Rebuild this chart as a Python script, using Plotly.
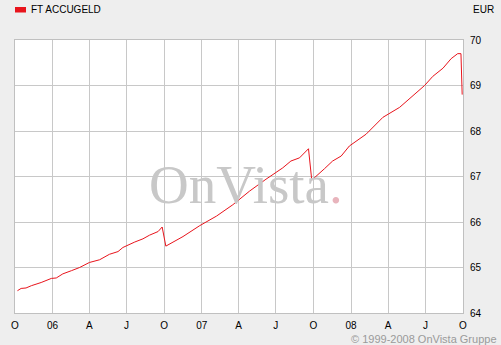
import plotly.graph_objects as go

dates = [
    "2005-10-07", "2005-10-16", "2005-10-28", "2005-11-10", "2005-12-04", "2005-12-29",
    "2006-01-10", "2006-01-26", "2006-02-16", "2006-03-08", "2006-04-01", "2006-04-26",
    "2006-05-20", "2006-06-10", "2006-06-22", "2006-07-03", "2006-07-21", "2006-08-10",
    "2006-08-26", "2006-09-16", "2006-09-26", "2006-10-05", "2006-10-22", "2006-11-16",
    "2006-12-27", "2007-02-06", "2007-03-18", "2007-04-28", "2007-06-07", "2007-07-18",
    "2007-08-07", "2007-08-28", "2007-09-19", "2007-09-27", "2007-10-28", "2007-11-17",
    "2007-12-08", "2007-12-28", "2008-02-07", "2008-03-19", "2008-04-29", "2008-06-09",
    "2008-06-29", "2008-07-19", "2008-08-13", "2008-09-02", "2008-09-18", "2008-09-26",
    "2008-09-27", "2008-09-29",
]
values = [
    64.49, 64.54, 64.55, 64.60, 64.67, 64.76,
    64.77, 64.86, 64.93, 65.00, 65.11, 65.17,
    65.29, 65.35, 65.44, 65.49, 65.56, 65.63,
    65.71, 65.79, 65.89, 65.47, 65.56, 65.68,
    65.92, 66.13, 66.38, 66.68, 66.94, 67.19,
    67.34, 67.41, 67.61, 66.92, 67.17, 67.34,
    67.45, 67.67, 67.93, 68.30, 68.52, 68.85,
    69.00, 69.20, 69.38, 69.59, 69.70, 69.70,
    69.25, 68.80,
]

tick_dates = [
    "2005-10-01", "2006-01-01", "2006-04-01", "2006-07-01", "2006-10-01",
    "2007-01-01", "2007-04-01", "2007-07-01", "2007-10-01",
    "2008-01-01", "2008-04-01", "2008-07-01", "2008-10-01",
]
tick_labels = ["O", "06", "A", "J", "O", "07", "A", "J", "O", "08", "A", "J", "O"]
y_ticks = [64, 65, 66, 67, 68, 69, 70]

series_name = "FT ACCUGELD"
currency = "EUR"
copyright_text = "© 1999-2008 OnVista Gruppe"

W, H = 501, 345
L, R, T, B = 15, 463, 40, 313


def px(x):
    return (x - L) / (R - L)


def py(y):
    return (B - y) / (B - T)


fig = go.Figure()
fig.add_trace(go.Scatter(
    x=dates, y=values, mode="lines",
    line=dict(color="#e8141c", width=1),
    showlegend=False, hoverinfo="skip",
))

font_main = "Liberation Sans, Arial, sans-serif"

fig.update_layout(
    width=W, height=H,
    margin=dict(l=L, r=W - R, t=T, b=H - B),
    paper_bgcolor="#eeeeee",
    plot_bgcolor="#ffffff",
    font=dict(family=font_main, size=10, color="#000000"),
    xaxis=dict(
        range=["2005-10-01", "2008-10-01"],
        tickvals=tick_dates, ticktext=tick_labels,
        showgrid=True, gridcolor="#c8c8c8", gridwidth=1,
        showline=True, linecolor="#c0c0c0", linewidth=1, mirror=True,
        ticks="", zeroline=False, ticklabelstandoff=3,
        tickfont=dict(size=10, family=font_main, color="#000000"),
    ),
    yaxis=dict(
        range=[64, 70], side="right",
        tickvals=y_ticks, ticktext=[str(v) for v in y_ticks],
        showgrid=True, gridcolor="#c8c8c8", gridwidth=1,
        showline=True, linecolor="#c0c0c0", linewidth=1, mirror=True,
        ticks="", zeroline=False, ticklabelstandoff=4,
        tickfont=dict(size=10, family=font_main, color="#000000"),
    ),
    shapes=[
        dict(type="rect", xref="paper", yref="paper",
             x0=px(15), x1=px(26), y0=py(12.5), y1=py(7),
             fillcolor="#e8141c", line=dict(width=0)),
    ],
    annotations=[
        dict(text=series_name, xref="paper", yref="paper",
             x=px(29), y=py(9.5), xanchor="left", yanchor="middle",
             showarrow=False, font=dict(size=10, family=font_main, color="#000000")),
        dict(text=currency, xref="paper", yref="paper",
             x=px(496), y=py(9.5), xanchor="right", yanchor="middle",
             showarrow=False, font=dict(size=10, family=font_main, color="#000000")),
        dict(text=copyright_text, xref="paper", yref="paper",
             x=px(499), y=py(339), xanchor="right", yanchor="middle",
             showarrow=False, font=dict(size=11, family=font_main, color="#9a9a9a")),
        dict(text="OnVista<span style='color:#e8b4bc'>.</span>", xref="paper", yref="paper",
             x=px(147), y=py(184),
             xanchor="left", yanchor="middle", showarrow=False,
             font=dict(size=55, family="Liberation Serif, Times New Roman, serif", color="#c8c8c8")),
    ],
)

fig.write_html("out.html")
